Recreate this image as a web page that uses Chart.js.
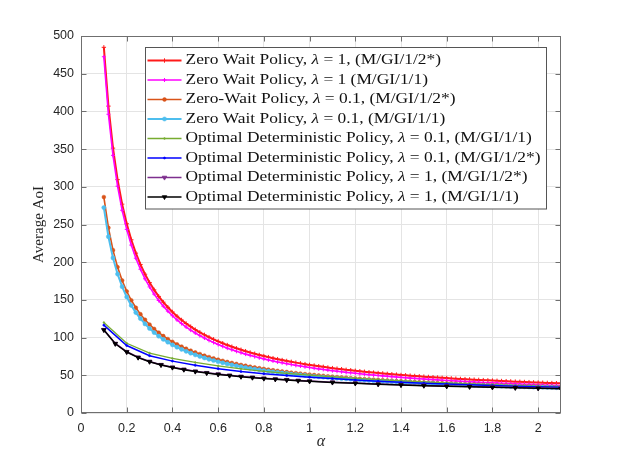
<!DOCTYPE html>
<html><head><meta charset="utf-8">
<script src="https://cdn.jsdelivr.net/npm/chart.js@4/dist/chart.umd.min.js"></script>
<style>html,body{margin:0;padding:0;background:#fff}#wrap{width:620px;height:465px}</style>
</head><body><div id="wrap"><canvas id="c" width="620" height="465"></canvas></div>
<script>
// ---- data ----
const alphaZW = [0.10,0.12,0.14,0.16,0.18,0.20,0.22,0.24,0.26,0.28,
0.30,0.32,0.34,0.36,0.38,0.40,0.42,0.44,0.46,0.48,
0.50,0.52,0.54,0.56,0.58,0.60,0.62,0.64,0.66,0.68,
0.70,0.72,0.74,0.76,0.78,0.80,0.82,0.84,0.86,0.88,
0.90,0.92,0.94,0.96,0.98,1.00,1.02,1.04,1.06,1.08,
1.10,1.12,1.14,1.16,1.18,1.20,1.22,1.24,1.26,1.28,
1.30,1.32,1.34,1.36,1.38,1.40,1.42,1.44,1.46,1.48,
1.50,1.52,1.54,1.56,1.58,1.60,1.62,1.64,1.66,1.68,
1.70,1.72,1.74,1.76,1.78,1.80,1.82,1.84,1.86,1.88,
1.90,1.92,1.94,1.96,1.98,2.00,2.02,2.04,2.06,2.08,2.10];

const zwLam1Cap2 = [485.0,407.0,351.3,309.5,277.0,251.0,229.7,212.0,197.0,184.1,
173.0,163.3,154.6,147.0,140.2,134.0,128.4,123.4,118.7,114.5,
110.6,107.0,103.7,100.6,97.7,95.0,92.5,90.1,87.9,85.8,
83.9,82.0,80.2,78.6,77.0,75.5,74.1,72.7,71.4,70.2,
69.0,67.9,66.8,65.8,64.8,63.8,62.9,62.0,61.2,60.3,
59.5,58.8,58.1,57.3,56.7,56.0,55.4,54.7,54.1,53.6,
53.0,52.5,51.9,51.4,50.9,50.4,50.0,49.5,49.1,48.6,
48.2,47.8,47.4,47.0,46.6,46.3,45.9,45.5,45.2,44.9,
44.5,44.2,43.9,43.6,43.3,43.0,42.7,42.4,42.2,41.9,
41.6,41.4,41.1,40.9,40.6,40.4,40.2,39.9,39.7,39.5,39.3];

const zwLam1Cap1 = [472.5,396.2,341.7,300.8,268.9,243.5,222.7,205.3,190.7,178.0,
167.2,157.7,149.2,141.7,135.1,129.0,123.5,118.6,114.0,109.9,
106.1,102.6,99.4,96.3,93.5,90.8,88.4,86.0,83.9,81.8,
80.0,78.1,76.4,74.8,73.2,71.8,70.4,69.0,67.7,66.6,
65.4,64.3,63.2,62.3,61.3,60.3,59.4,58.5,57.8,56.9,
56.1,55.4,54.7,53.9,53.4,52.7,52.1,51.4,50.8,50.3,
49.7,49.2,48.7,48.2,47.7,47.2,46.8,46.3,45.9,45.4,
45.0,44.6,44.3,43.9,43.5,43.2,42.8,42.4,42.1,41.8,
41.4,41.1,40.8,40.5,40.2,39.9,39.7,39.4,39.2,38.9,
38.6,38.4,38.1,37.9,37.6,37.4,37.2,36.9,36.7,36.5,36.3];

const zwLam01Cap2 = [286.4,245.7,216.0,193.5,175.8,161.4,149.5,139.6,131.1,123.7,
117.3,111.6,106.6,102.1,98.1,94.4,91.1,88.1,85.3,82.7,
80.4,78.2,76.1,74.2,72.5,70.8,69.2,67.7,66.4,65.1,
63.8,62.7,61.5,60.5,59.5,58.5,57.6,56.8,55.9,55.1,
54.4,53.6,52.9,52.3,51.6,51.0,50.4,49.8,49.3,48.7,
48.2,47.7,47.2,46.8,46.3,45.9,45.4,45.0,44.6,44.2,
43.9,43.5,43.1,42.8,42.5,42.1,41.8,41.5,41.2,40.9,
40.6,40.4,40.1,39.8,39.6,39.3,39.1,38.8,38.6,38.4,
38.1,37.9,37.7,37.5,37.3,37.1,36.9,36.7,36.5,36.3,
36.1,35.9,35.8,35.6,35.4,35.3,35.1,34.9,34.8,34.6,34.5];

const zwLam01Cap1 = [272.4,233.8,205.7,184.3,167.5,153.9,142.6,133.2,125.2,118.2,
112.1,106.7,101.9,97.7,93.9,90.4,87.3,84.4,81.8,79.3,
77.1,75.0,73.0,71.2,69.6,68.0,66.5,65.1,63.8,62.6,
61.4,60.3,59.2,58.2,57.3,56.3,55.5,54.7,53.9,53.1,
52.5,51.7,51.0,50.5,49.8,49.2,48.7,48.1,47.6,47.1,
46.6,46.1,45.6,45.3,44.8,44.4,43.9,43.5,43.2,42.8,
42.5,42.1,41.7,41.5,41.2,40.8,40.5,40.2,39.9,39.7,
39.4,39.2,38.9,38.6,38.4,38.1,38.0,37.7,37.5,37.3,
37.0,36.8,36.6,36.4,36.2,36.1,35.9,35.7,35.5,35.3,
35.1,34.9,34.8,34.6,34.4,34.4,34.2,34.0,33.9,33.7,33.6];

const alphaOD01 = [0.1,0.2,0.3,0.4,0.5,0.6,0.7,0.8,0.9,1.0,1.1,1.2,1.3,1.4,1.5,1.6,1.7,1.8,1.9,2.0,2.1];
const odLam01Cap1 = [120.0,92.5,79.5,72.5,67.0,62.5,58.6,55.3,52.6,50.2,48.0,46.0,44.3,42.7,41.2,39.8,38.5,37.3,36.2,35.2,34.3];
const odLam01Cap2 = [116.5,89.5,76.0,68.8,63.2,58.8,55.0,52.0,49.6,47.5,45.6,43.8,42.2,40.8,39.6,38.5,37.5,36.5,35.6,34.8,34.0];

const alphaOD1 = [0.10,0.15,0.20,0.25,0.30,0.35,0.40,0.45,0.50,0.55,0.60,0.65,0.70,0.75,0.80,0.85,0.90,0.95,1.00,
1.1,1.2,1.3,1.4,1.5,1.6,1.7,1.8,1.9,2.0,2.1];
const odLam1Cap2 = [110.5,92.2,81.3,73.9,68.4,64.1,60.7,57.9,55.4,53.4,51.6,50.0,48.5,47.3,46.1,45.1,44.1,43.2,42.4,
40.9,39.7,38.5,37.5,36.6,35.8,35.1,34.4,33.8,33.2,32.6];
const odLam1Cap1 = [110.1,91.8,80.9,73.5,68.0,63.7,60.3,57.5,55.0,53.0,51.2,49.6,48.1,46.9,45.7,44.7,43.7,42.8,42.0,
40.5,39.3,38.1,37.1,36.2,35.4,34.7,34.0,33.4,32.8,32.2];

const seriesLabels = [
  'Zero Wait Policy, λ = 1, (M/GI/1/2*)',
  'Zero Wait Policy, λ = 1 (M/GI/1/1)',
  'Zero-Wait Policy, λ = 0.1, (M/GI/1/2*)',
  'Zero Wait Policy, λ = 0.1, (M/GI/1/1)',
  'Optimal Deterministic Policy, λ = 0.1, (M/GI/1/1)',
  'Optimal Deterministic Policy, λ = 0.1, (M/GI/1/2*)',
  'Optimal Deterministic Policy, λ = 1, (M/GI/1/2*)',
  'Optimal Deterministic Policy, λ = 1, (M/GI/1/1)'
];
const xTickValues = [0,0.2,0.4,0.6,0.8,1,1.2,1.4,1.6,1.8,2];
const xTickLabels = ['0','0.2','0.4','0.6','0.8','1','1.2','1.4','1.6','1.8','2'];
const yTickValues = [0,50,100,150,200,250,300,350,400,450,500];
const yTickLabels = ['0','50','100','150','200','250','300','350','400','450','500'];
const xTitle = 'α';
const yTitle = 'Average AoI';

// ---- chart ----
const toXY = (xs, ys) => xs.map((x, i) => ({x: x, y: ys[i]}));
const serif = '"Liberation Serif", "DejaVu Serif", serif';
const sans = '"Liberation Sans", Arial, sans-serif';

const styles = [
  {c:'#ff1a1a', w:2.0, ps:'cross', r:2.2, pw:1},
  {c:'#ff00ff', w:1.6, ps:'cross', r:2.0, pw:1},
  {c:'#d95319', w:1.6, ps:'circle', r:1.9, pw:0.5},
  {c:'#4dbeee', w:2.0, ps:'circle', r:2.1, pw:0.5},
  {c:'#77ac30', w:1.3, ps:'circle', r:0.9, pw:0.5},
  {c:'#0000ff', w:1.5, ps:'circle', r:1.1, pw:0.5},
  {c:'#7e2f8e', w:1.5, ps:'triangle', r:2.6, pw:0.8, rot:180},
  {c:'#000000', w:1.5, ps:'triangle', r:2.6, pw:0.8, rot:180}
];
const seriesData = [
  toXY(alphaZW, zwLam1Cap2), toXY(alphaZW, zwLam1Cap1),
  toXY(alphaZW, zwLam01Cap2), toXY(alphaZW, zwLam01Cap1),
  toXY(alphaOD01, odLam01Cap1), toXY(alphaOD01, odLam01Cap2),
  toXY(alphaOD1, odLam1Cap2), toXY(alphaOD1, odLam1Cap1)
];
const datasets = seriesData.map((d, i) => {
  const s = styles[i];
  return {
    label: seriesLabels[i], data: d,
    borderColor: s.c, backgroundColor: s.c, borderWidth: s.w,
    pointStyle: s.ps, pointRadius: s.r, pointBorderWidth: s.pw,
    pointRotation: s.rot || 0,
    pointBackgroundColor: s.c, pointBorderColor: s.c,
    fill: false, tension: 0, order: 7 - i
  };
});

const frame = {
  id: 'frame',
  afterDatasetsDraw(chart) {
    const {ctx, chartArea: a, scales: {x, y}} = chart;
    ctx.save();
    const L = Math.round(a.left) + 0.5, R = Math.round(a.right) - 0.5;
    const T = Math.round(a.top) + 0.5, B = Math.round(a.bottom) - 0.5;
    ctx.strokeStyle = '#6f6f6f'; ctx.lineWidth = 1;
    ctx.strokeRect(L, T, R - L, B - T);
    const tl = 5;
    ctx.beginPath();
    xTickValues.forEach(v => {
      const px = Math.round(x.getPixelForValue(v)) + 0.5;
      ctx.moveTo(px, B); ctx.lineTo(px, B - tl);
      ctx.moveTo(px, T); ctx.lineTo(px, T + tl);
    });
    yTickValues.forEach(v => {
      const py = Math.round(y.getPixelForValue(v)) + 0.5;
      ctx.moveTo(L, py); ctx.lineTo(L + tl, py);
      ctx.moveTo(R, py); ctx.lineTo(R - tl, py);
    });
    ctx.stroke();
    // axis titles
    ctx.fillStyle = '#262626';
    ctx.font = '15px ' + serif;
    ctx.textAlign = 'center'; ctx.textBaseline = 'middle';
    ctx.save();
    ctx.translate(39, (a.top + a.bottom) / 2);
    ctx.rotate(-Math.PI / 2);
    ctx.fillText(yTitle, 0, 0);
    ctx.restore();
    ctx.font = 'italic 16px ' + serif;
    ctx.fillText(xTitle, (a.left + a.right) / 2, 442);
    ctx.restore();
  },
  afterDraw(chart) {
    const {ctx, chartArea: a} = chart;
    const fs = 15, rowH = 19.5;
    ctx.save();
    const parts = seriesLabels.map(s => s.split('λ'));
    const seg = p => {
      ctx.font = fs + 'px ' + serif; const w0 = ctx.measureText(p[0]).width;
      ctx.font = 'italic ' + fs + 'px ' + serif; const w1 = ctx.measureText('λ').width;
      ctx.font = fs + 'px ' + serif; const w2 = ctx.measureText(p[1]).width;
      return [w0, w1, w2];
    };
    const widths = parts.map(seg);
    const maxW = Math.max(...widths.map(w => w[0] + w[1] + w[2]));
    const sx = Math.min(1.25, Math.max(0.8, 355 / maxW));
    const boxR = Math.round(a.right - 15) + 0.5;
    const textEnd = boxR - 6;
    const textStart = textEnd - maxW * sx;
    const sampleEnd = textStart - 4, sampleStart = sampleEnd - 34;
    const boxL = Math.round(sampleStart - 3) + 0.5;
    const boxT = Math.round(a.top + 11) + 0.5;
    const boxB = boxT + 13 + rowH * 7 + 12;
    ctx.fillStyle = '#ffffff';
    ctx.fillRect(boxL, boxT, boxR - boxL, boxB - boxT);
    ctx.strokeStyle = '#555555'; ctx.lineWidth = 1;
    ctx.strokeRect(boxL, boxT, boxR - boxL, boxB - boxT);
    datasets.forEach((ds, i) => {
      const cy = boxT + 13 + i * rowH;
      const s = styles[i];
      ctx.strokeStyle = s.c; ctx.fillStyle = s.c; ctx.lineWidth = s.w;
      ctx.beginPath(); ctx.moveTo(sampleStart, cy); ctx.lineTo(sampleEnd, cy); ctx.stroke();
      ctx.lineWidth = s.pw;
      Chart.helpers.drawPoint(ctx, {pointStyle: s.ps, rotation: s.rot || 0, radius: s.r, borderWidth: s.pw}, (sampleStart + sampleEnd) / 2, cy);
      // text
      ctx.save();
      ctx.translate(textStart, cy);
      ctx.scale(sx, 1);
      ctx.fillStyle = '#111111';
      ctx.textAlign = 'left'; ctx.textBaseline = 'middle';
      const p = parts[i], w = widths[i];
      ctx.font = fs + 'px ' + serif; ctx.fillText(p[0], 0, 0);
      ctx.font = 'italic ' + fs + 'px ' + serif; ctx.fillText('λ', w[0], 0);
      ctx.font = fs + 'px ' + serif; ctx.fillText(p[1], w[0] + w[1], 0);
      ctx.restore();
    });
    ctx.restore();
  }
};

new Chart(document.getElementById('c'), {
  type: 'line',
  data: {datasets: datasets},
  options: {
    responsive: false, animation: false, devicePixelRatio: 1,
    layout: {padding: {top: 36, right: 59, left: 0, bottom: 0}},
    plugins: {legend: {display: false}, tooltip: {enabled: false}},
    scales: {
      x: {
        type: 'linear', min: 0, max: 2.1,
        afterFit: s => { s.height = 52; },
        border: {display: false},
        grid: {color: '#e4e4e4', lineWidth: 1, drawTicks: false},
        ticks: {
          stepSize: 0.2, includeBounds: false, autoSkip: false, maxRotation: 0, padding: 8,
          color: '#262626', font: {family: sans, size: 12.5},
          callback: v => { const k = xTickValues.findIndex(t => Math.abs(t - v) < 1e-6); return k >= 0 ? xTickLabels[k] : ''; }
        }
      },
      y: {
        type: 'linear', min: 0, max: 500,
        afterFit: s => { s.width = 81; },
        border: {display: false},
        grid: {color: '#e4e4e4', lineWidth: 1, drawTicks: false},
        ticks: {
          stepSize: 50, autoSkip: false, padding: 7,
          color: '#262626', font: {family: sans, size: 12.5},
          callback: v => { const k = yTickValues.indexOf(Math.round(v)); return k >= 0 ? yTickLabels[k] : ''; }
        }
      }
    }
  },
  plugins: [frame]
});
</script></body></html>
